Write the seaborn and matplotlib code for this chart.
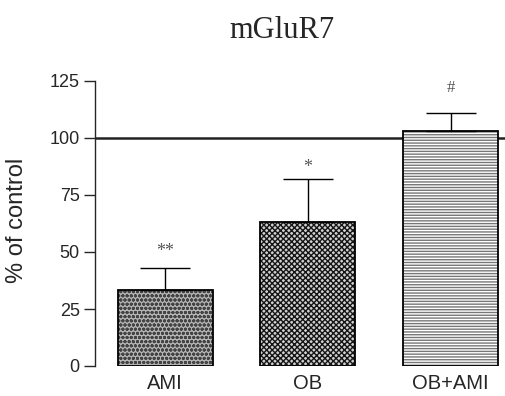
import matplotlib
matplotlib.use("Agg")
import matplotlib.pyplot as plt
import seaborn as sns
import pandas as pd
import numpy as np

categories = ["AMI", "OB", "OB+AMI"]
means = [33.3, 63.0, 103.0]
sems = [9.5, 19.2, 8.0]
marks = ["**", "*", "#"]

sns.set_style("ticks")
plt.rcParams["font.family"] = ["Liberation Sans", "DejaVu Sans"]

df = pd.DataFrame({"group": categories, "value": means})

fig = plt.figure(figsize=(5.05, 3.96), dpi=100)
ax = fig.add_axes([95/505, 30/396, 410/505, 285/396])

sns.barplot(data=df, x="group", y="value", ax=ax, width=0.665,
            color="white", edgecolor="black", linewidth=1.3, errorbar=None, zorder=2)

plt.rcParams["hatch.linewidth"] = 0.8
styles = [("#b5b5b5", "#444444", "oooo"), ("#d0d0d0", "#151515", "xxxxxx"), ("#ffffff", "#777777", "------")]
for p, (fc, hc, h) in zip(ax.patches, styles):
    p.set_facecolor(fc)
    p.set_hatch(h)
    p.set_edgecolor("black")
    p._hatch_color = matplotlib.colors.to_rgba(hc)

x = np.arange(len(categories))
ax.errorbar(x, means, yerr=[np.zeros(len(sems)), sems], fmt="none",
            ecolor="black", elinewidth=1.0, capsize=18, capthick=1.0, zorder=3)

ax.axhline(100, color="#222222", linewidth=1.8, zorder=1)

mark_pad = [9.3, 6.8, 11.0]
for xi, m, s, t, pd_ in zip(x, means, sems, marks, mark_pad):
    if t == "#":
        ax.text(xi, m + s + pd_, t, ha="center", va="center", fontsize=12,
                family="Liberation Serif", color="#555555")
    else:
        ax.text(xi, m + s + pd_, t, ha="center", va="center", fontsize=13,
                family="Liberation Serif", color="#555555",
                transform=ax.transData + matplotlib.transforms.ScaledTranslation(0, -4/100, fig.dpi_scale_trans))

ax.set_ylim(0, 125)
ax.set_xlim(-0.49, 2.38)
ax.set_yticks([0, 25, 50, 75, 100, 125])
ax.tick_params(axis="y", length=8, width=1.0, labelsize=13, pad=3)
ax.tick_params(axis="x", length=0, labelsize=14.5, pad=6)
ax.set_xlabel("")
ax.set_ylabel("% of control", fontsize=17, labelpad=0)
ax.yaxis.set_label_coords(-(95 - 28) / 410, (366 - 220) / 285)
for sp in ["top", "right", "bottom"]:
    ax.spines[sp].set_visible(False)
ax.spines["left"].set_linewidth(1.0)

fig.text(282/505, 1 - 30/396, "mGluR7", ha="center", va="center",
         fontsize=22, family="Liberation Serif")

fig.savefig("out.png", dpi=100)
